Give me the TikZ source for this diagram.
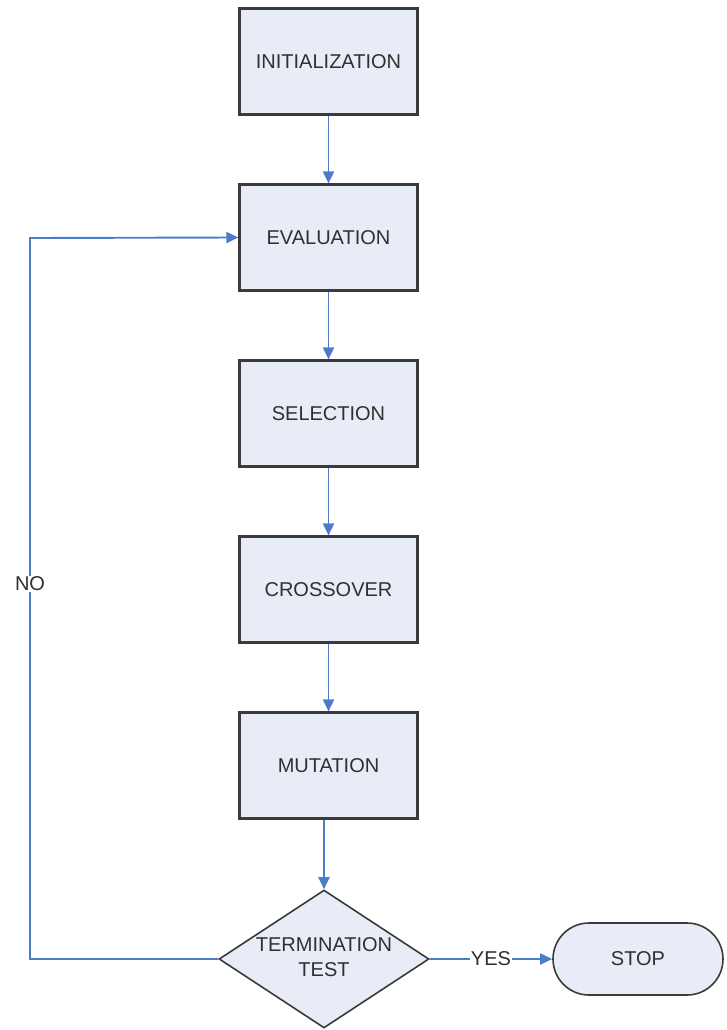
\documentclass[tikz,border=0pt]{standalone}
\usepackage{fontspec}
\setmainfont{Liberation Sans}
\usetikzlibrary{shapes.geometric,arrows.meta}
\definecolor{boxfill}{HTML}{E8ECF6}
\definecolor{boxline}{HTML}{3A3A3A}
\definecolor{arrowc}{HTML}{4A7CC8}
\definecolor{txt}{HTML}{303030}
\begin{document}
\begin{tikzpicture}[x=1pt,y=-1pt,
  every node/.style={text=txt,font=\fontsize{20}{24}\selectfont},
  stepbox/.style={draw=boxline,fill=boxfill,line width=2.2pt,minimum width=178pt,minimum height=106pt,inner sep=0pt},
  decision/.style={diamond,aspect=1.52,draw=boxline,fill=boxfill,line width=1.6pt,minimum width=210pt,minimum height=138pt,inner sep=0pt,align=center},
  terminal/.style={draw=boxline,fill=boxfill,line width=1.6pt,rounded corners=36pt,minimum width=170pt,minimum height=72pt,inner sep=0pt},
  conn/.style={draw=arrowc,line width=1.9pt,-{Triangle[length=12pt,width=11pt]}},
  lbl/.style={fill=white,inner sep=1pt}]
\useasboundingbox (0,0) rectangle (727,1030);
\node[stepbox] (init) at (328.5,61.5) {INITIALIZATION};
\node[stepbox] (eval) at (328.5,237.5) {EVALUATION};
\node[stepbox] (sel) at (328.5,413.5) {SELECTION};
\node[stepbox] (cross) at (328.5,589.5) {CROSSOVER};
\node[stepbox] (mut) at (328.5,765.5) {MUTATION};
\node[decision] (term) at (324,959) {};
\node (termtext) at (324,957) [align=center] {TERMINATION\\[1pt]TEST};
\node[terminal] (stop) at (638,959) {STOP};
\coordinate (nocorner) at (30,959);
\coordinate (notop) at (30,238);
\draw[conn] (init) -- (eval);
\draw[conn] (eval) -- (sel);
\draw[conn] (sel) -- (cross);
\draw[conn] (cross) -- (mut);
\draw[conn] (mut.south -| term.north) -- (term.north);
\draw[conn] (term.east) -- node[lbl]{YES} (stop.west);
\draw[conn] (term.west) -- (nocorner) -- node[lbl,pos=0.52]{NO} (notop) -- (eval.west);
\end{tikzpicture}
\end{document}
